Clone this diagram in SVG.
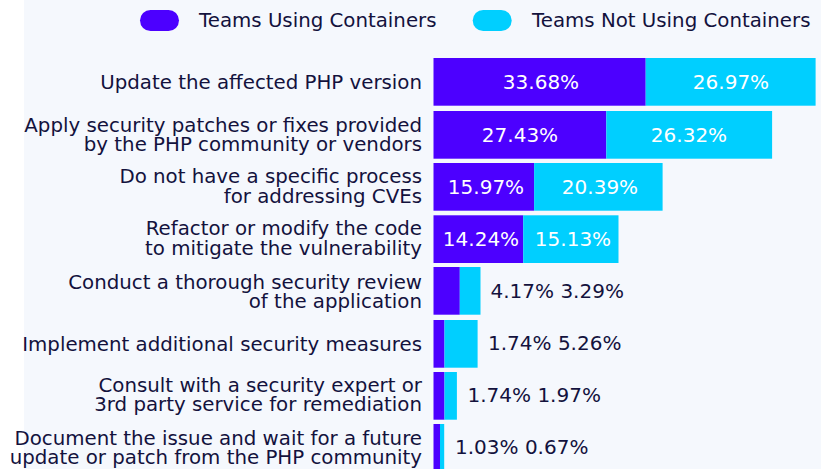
<svg xmlns="http://www.w3.org/2000/svg" width="821" height="469" viewBox="0 0 821 469">
<style>
text{font-family:"DejaVu Sans","Liberation Sans",sans-serif;font-size:19.8px;fill:#13123d}
.lbl{text-anchor:end}
.in{fill:#ffffff;text-anchor:middle;font-size:20px}
.out{font-size:20px}
.p{fill:#4c00ff}
.c{fill:#00cfff}
</style>
<rect x="0" y="0" width="821" height="469" fill="#ffffff"/>
<rect x="24" y="0" width="797" height="469" fill="#f5f8fd"/>
<g id="legend">
<rect class="p" x="140" y="10" width="39" height="21" rx="10.5"/>
<text x="199" y="26.7">Teams Using Containers</text>
<rect class="c" x="472.7" y="10" width="39" height="21" rx="10.5"/>
<text x="532" y="26.7">Teams Not Using Containers</text>
</g>
<g id="row1">
<text class="lbl" x="422" y="89.3">Update the affected PHP version</text>
<rect class="p" x="433.5" y="58" width="212.2" height="47.7"/>
<rect class="c" x="645.7" y="58" width="169.9" height="47.7"/>
<text class="in" x="541" y="89">33.68%</text>
<text class="in" x="731" y="89">26.97%</text>
</g>
<g id="row2">
<text class="lbl" x="422" y="132">Apply security patches or fixes provided<tspan x="422" dy="19">by the PHP community or vendors</tspan></text>
<rect class="p" x="433.5" y="111" width="172.8" height="47.7"/>
<rect class="c" x="606.3" y="111" width="165.8" height="47.7"/>
<text class="in" x="520" y="142">27.43%</text>
<text class="in" x="689" y="142">26.32%</text>
</g>
<g id="row3">
<text class="lbl" x="422" y="183">Do not have a specific process<tspan x="422" dy="19.5">for addressing CVEs</tspan></text>
<rect class="p" x="433.5" y="163" width="100.6" height="47.7"/>
<rect class="c" x="534.1" y="163" width="128.5" height="47.7"/>
<text class="in" x="486" y="194">15.97%</text>
<text class="in" x="600" y="194">20.39%</text>
</g>
<g id="row4">
<text class="lbl" x="422" y="235">Refactor or modify the code<tspan x="422" dy="19.5">to mitigate the vulnerability</tspan></text>
<rect class="p" x="433.5" y="215.3" width="89.7" height="47.7"/>
<rect class="c" x="523.2" y="215.3" width="95.3" height="47.7"/>
<text class="in" x="481" y="246">14.24%</text>
<text class="in" x="573" y="246">15.13%</text>
</g>
<g id="row5">
<text class="lbl" x="422" y="288.5">Conduct a thorough security review<tspan x="422" dy="19.5">of the application</tspan></text>
<rect class="p" x="433.5" y="267" width="26.3" height="47.7"/>
<rect class="c" x="459.8" y="267" width="20.7" height="47.7"/>
<text class="out" x="490.5" y="298">4.17% 3.29%</text>
</g>
<g id="row6">
<text class="lbl" x="422" y="350.7">Implement additional security measures</text>
<rect class="p" x="433.5" y="320" width="11" height="47.7"/>
<rect class="c" x="444.5" y="320" width="33.1" height="47.7"/>
<text class="out" x="488" y="350">1.74% 5.26%</text>
</g>
<g id="row7">
<text class="lbl" x="422" y="391.5">Consult with a security expert or<tspan x="422" dy="19.5">3rd party service for remediation</tspan></text>
<rect class="p" x="433.5" y="372" width="11" height="47.7"/>
<rect class="c" x="444.5" y="372" width="12.4" height="47.7"/>
<text class="out" x="467.5" y="402">1.74% 1.97%</text>
</g>
<g id="row8">
<text class="lbl" x="422" y="444.5">Document the issue and wait for a future<tspan x="422" dy="19.5">update or patch from the PHP community</tspan></text>
<rect class="p" x="433.5" y="424" width="6.5" height="47.7"/>
<rect class="c" x="440" y="424" width="4.2" height="47.7"/>
<text class="out" x="455" y="454">1.03% 0.67%</text>
</g>
<g id="connectors"/>
</svg>
